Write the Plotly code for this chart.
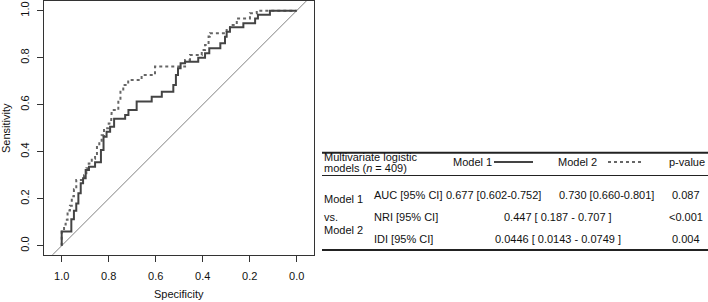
import plotly.graph_objects as go

# ---------------- data ----------------
m1_spec = [1.000, 1.000, 0.959, 0.959, 0.948, 0.948, 0.938, 0.938, 0.929, 0.929, 0.919, 0.919,
           0.909, 0.909, 0.898, 0.898, 0.884, 0.884, 0.858, 0.858, 0.833, 0.833, 0.822, 0.822,
           0.809, 0.809, 0.794, 0.794, 0.777, 0.777, 0.730, 0.730, 0.716, 0.716, 0.681, 0.681,
           0.617, 0.617, 0.574, 0.574, 0.525, 0.525, 0.514, 0.514, 0.505, 0.505, 0.494, 0.494,
           0.475, 0.475, 0.419, 0.419, 0.390, 0.390, 0.372, 0.372, 0.325, 0.325, 0.305, 0.305,
           0.298, 0.298, 0.284, 0.284, 0.227, 0.227, 0.177, 0.177, 0.165, 0.165, 0.114, 0.114, 0.000]
m1_sens = [0.000, 0.060, 0.060, 0.112, 0.112, 0.149, 0.149, 0.180, 0.180, 0.223, 0.223, 0.266,
           0.266, 0.287, 0.287, 0.322, 0.322, 0.336, 0.336, 0.355, 0.355, 0.407, 0.407, 0.464,
           0.464, 0.485, 0.485, 0.506, 0.506, 0.540, 0.540, 0.556, 0.556, 0.577, 0.577, 0.613,
           0.613, 0.634, 0.634, 0.655, 0.655, 0.684, 0.684, 0.726, 0.726, 0.755, 0.755, 0.776,
           0.776, 0.783, 0.783, 0.800, 0.800, 0.819, 0.819, 0.840, 0.840, 0.861, 0.861, 0.889,
           0.889, 0.910, 0.910, 0.929, 0.929, 0.946, 0.946, 0.967, 0.967, 0.982, 0.982, 1.000, 1.000]

m2_spec = [1.000, 1.000, 0.990, 0.990, 0.983, 0.983, 0.975, 0.975, 0.965, 0.965, 0.957, 0.957,
           0.948, 0.948, 0.938, 0.938, 0.905, 0.905, 0.895, 0.895, 0.885, 0.885, 0.872, 0.872,
           0.858, 0.858, 0.850, 0.850, 0.840, 0.840, 0.830, 0.830, 0.820, 0.820, 0.800, 0.800,
           0.790, 0.790, 0.787, 0.787, 0.759, 0.759, 0.750, 0.750, 0.738, 0.738, 0.717, 0.717,
           0.660, 0.660, 0.603, 0.603, 0.475, 0.475, 0.454, 0.454, 0.404, 0.404, 0.390, 0.390,
           0.375, 0.375, 0.369, 0.369, 0.298, 0.298, 0.284, 0.284, 0.255, 0.255, 0.199, 0.199,
           0.170, 0.170, 0.000]
m2_sens = [0.000, 0.065, 0.065, 0.090, 0.090, 0.110, 0.110, 0.150, 0.150, 0.170, 0.170, 0.210,
           0.210, 0.240, 0.240, 0.280, 0.280, 0.300, 0.300, 0.330, 0.330, 0.350, 0.350, 0.370,
           0.370, 0.390, 0.390, 0.420, 0.420, 0.440, 0.440, 0.470, 0.470, 0.500, 0.500, 0.520,
           0.520, 0.555, 0.555, 0.577, 0.577, 0.620, 0.620, 0.655, 0.655, 0.684, 0.684, 0.705,
           0.705, 0.726, 0.726, 0.762, 0.762, 0.790, 0.790, 0.811, 0.811, 0.833, 0.833, 0.854,
           0.854, 0.890, 0.890, 0.904, 0.904, 0.925, 0.925, 0.939, 0.939, 0.967, 0.967, 0.989,
           0.989, 1.000, 1.000]

tick_vals = [0.0, 0.2, 0.4, 0.6, 0.8, 1.0]
tick_text = ["0.0", "0.2", "0.4", "0.6", "0.8", "1.0"]

x_range = [1.0753, -0.0736]
y_range = [-0.0383, 1.041]

header_left = ["Multivariate logistic", "models (<i>n</i> = 409)"]
header_cols = ["Model 1", "Model 2", "p-value"]
row_group = ["Model 1", "vs.", "Model 2"]
row_names = ["AUC [95% CI]", "NRI [95% CI]", "IDI [95% CI]"]
auc_m1 = "0.677 [0.602-0.752]"
auc_m2 = "0.730 [0.660-0.801]"
nri_val = "0.447 [ 0.187 - 0.707 ]"
idi_val = "0.0446 [ 0.0143 - 0.0749 ]"
p_values = ["0.087", "<0.001", "0.004"]

# ---------------- layout helpers ----------------
W, H = 708, 302
FONT = "Liberation Sans, Arial, Helvetica, sans-serif"
TXT = "#111111"


def px(x):
    return x / W


def py(y):
    return 1 - y / H


fig = go.Figure()

# diagonal reference line y = 1 - x across the whole range
fig.add_trace(go.Scatter(x=x_range, y=[1 - v for v in x_range], mode="lines",
                         line=dict(color="#808080", width=1), hoverinfo="skip", showlegend=False))
fig.add_trace(go.Scatter(x=m2_spec, y=m2_sens, mode="lines",
                         line=dict(color="#666666", width=2, dash="dot"), showlegend=False))
fig.add_trace(go.Scatter(x=m1_spec, y=m1_sens, mode="lines",
                         line=dict(color="#444444", width=2), showlegend=False))

axis_common = dict(showgrid=False, zeroline=False, showline=True, mirror=True,
                   linecolor="#333333", linewidth=1, ticks="outside", ticklen=6,
                   tickcolor="#333333", tickvals=tick_vals, ticktext=tick_text,
                   tickfont=dict(family=FONT, size=11, color=TXT))

fig.update_layout(
    width=W, height=H, margin=dict(l=0, r=0, t=0, b=0),
    paper_bgcolor="white", plot_bgcolor="white",
    font=dict(family=FONT, size=11, color=TXT),
    xaxis=dict(domain=[px(44), px(314)], range=x_range, ticklabelstandoff=5, **axis_common),
    yaxis=dict(domain=[py(254.7), py(1)], range=y_range, tickangle=-90,
               ticklabelstandoff=4, **axis_common),
)

ann = []


def T(text, x, y, anchor="left", size=11, angle=0):
    ann.append(dict(text=text, x=px(x), y=py(y), xref="paper", yref="paper",
                    xanchor=anchor, yanchor="middle", showarrow=False, textangle=angle,
                    font=dict(family=FONT, size=size, color=TXT)))


# axis titles
T("Specificity", 179, 294, anchor="center")
T("Sensitivity", 6, 128, anchor="center", angle=-90)

# table header
T(header_left[0], 322, 157)
T(header_left[1], 322, 168)
T(header_cols[0], 451, 162)
T(header_cols[1], 556, 162)
T(header_cols[2], 707, 162, anchor="right")

# row group labels
T(row_group[0], 322, 199)
T(row_group[1], 322, 217)
T(row_group[2], 322, 230)

rows_y = [194.5, 217, 239]
for name, yy in zip(row_names, rows_y):
    T(name, 372, yy)
T(auc_m1, 444, rows_y[0])
T(auc_m2, 557, rows_y[0])
T(nri_val, 558, rows_y[1], anchor="center")
T(idi_val, 558, rows_y[2], anchor="center")
for pv, yy in zip(p_values, rows_y):
    T(pv, 686, yy, anchor="center")

fig.update_layout(annotations=ann)

shapes = [
    dict(type="line", xref="paper", yref="paper", x0=px(322), x1=px(708), y0=py(152.7), y1=py(152.7),
         line=dict(color="#222222", width=2)),
    dict(type="line", xref="paper", yref="paper", x0=px(322), x1=px(708), y0=py(175.5), y1=py(175.5),
         line=dict(color="#222222", width=1)),
    dict(type="line", xref="paper", yref="paper", x0=px(322), x1=px(708), y0=py(250), y1=py(250),
         line=dict(color="#222222", width=2)),
    # legend samples
    dict(type="line", xref="paper", yref="paper", x0=px(494), x1=px(533), y0=py(162), y1=py(162),
         line=dict(color="#444444", width=2)),
    dict(type="line", xref="paper", yref="paper", x0=px(608), x1=px(642), y0=py(162), y1=py(162),
         line=dict(color="#666666", width=2, dash="dot")),
]
fig.update_layout(shapes=shapes)

fig.write_html("out.html", config={"displayModeBar": False},
               post_script="document.body.style.margin='0';document.body.style.overflow='hidden';")
